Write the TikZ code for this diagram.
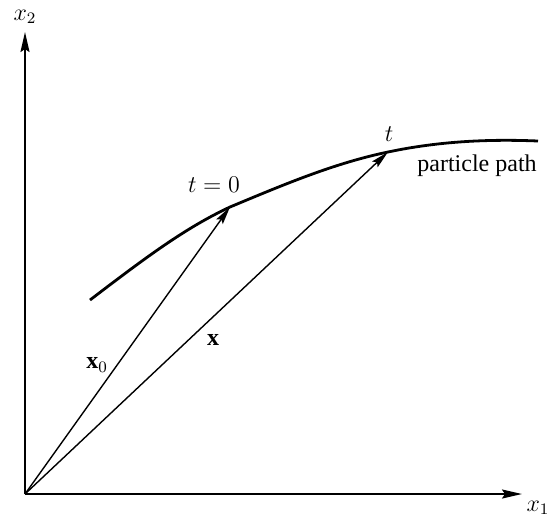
\documentclass[tikz,border=0pt]{standalone}
\usepackage{fontspec}
\setmainfont{Liberation Serif}
\usetikzlibrary{arrows.meta}
\begin{document}
\begin{tikzpicture}[x=0.5pt,y=-0.5pt,
  axis/.style={line width=1pt,-{Stealth[length=10pt,width=4.5pt,inset=1.5pt]}},
  vec/.style={line width=0.7pt,-{Stealth[length=9pt,width=4pt,inset=1.5pt]}},
  path/.style={line width=1.4pt},
  lbl/.style={inner sep=1pt,font=\large}]
\useasboundingbox (0,0) rectangle (550,516);
\coordinate (O) at (25,494);
\coordinate (X1) at (522,494);
\coordinate (X2) at (25,32);
\coordinate (S) at (90,300);
\coordinate (A) at (230,207);
\coordinate (B) at (388,152);
\coordinate (E) at (538,141);
\draw[axis] (O) -- (X1);
\draw[axis] (O) -- (X2);
\node[lbl] (lx1) at (538,508) {$x_1$};
\node[lbl] (lx2) at (25,17) {$x_2$};
\draw[path] (S) .. controls (145,258) and (185,228) .. (A)
  .. controls (285,184) and (335,163) .. (B)
  .. controls (440,141) and (490,139) .. (E);
\draw[vec] (O) -- (A);
\draw[vec] (O) -- (B);
\node[lbl] (lt0) at (214,185) {$t=0$};
\node[lbl] (lt) at (389,134) {$t$};
\node[lbl] (lpp) at (477,166) {particle path};
\node[lbl] (lx0) at (97,365) {$\mathbf{x}_0$};
\node[lbl] (lx) at (213,340) {$\mathbf{x}$};
\end{tikzpicture}
\end{document}
